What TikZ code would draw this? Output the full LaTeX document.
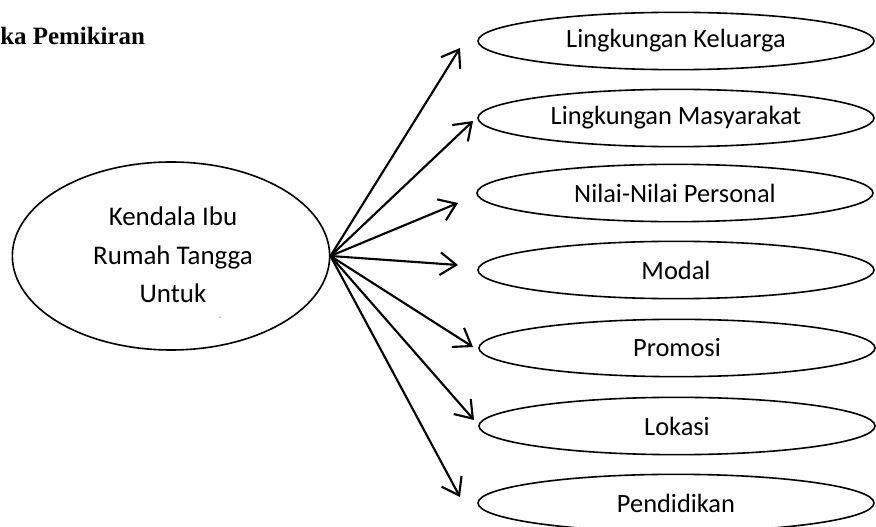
\documentclass[tikz,border=0pt]{standalone}
\usepackage{fontspec}
\setmainfont{Carlito}
\newfontfamily\judulfont{Liberation Serif}
\usetikzlibrary{shapes.geometric,arrows.meta}
\begin{document}
\begin{tikzpicture}[x=0.75pt,y=-0.75pt,
 faktor/.style={draw,ellipse,line width=1.2pt,minimum width=297pt,minimum height=43pt,inner sep=0pt,font=\fontsize{19.8}{23}\selectfont},
 panah/.style={line width=1.6pt,-{Straight Barb[length=12pt,width=17pt,line width=1.6pt]}}]
 \useasboundingbox (0,0) rectangle (876,527);
 \node[anchor=base west,inner sep=0pt,font=\judulfont\bfseries\fontsize{18.7}{22}\selectfont] (judul) at (0,45) {ka Pemikiran};
 % kendala
 \node[draw,ellipse,line width=1.2pt,minimum width=238pt,minimum height=141pt,inner sep=0pt] (kendala) at (171,256) {};
 \node[align=center,font=\fontsize{20.2}{29}\selectfont] (teks) at (173,255) {Kendala Ibu\\Rumah Tangga\\Untuk};
 \node[inner sep=0pt,scale=0.5] (titik) at (220,318) {-};
 % faktor-faktor
 \node[faktor] (keluarga) at (676,41) {Lingkungan Keluarga};
 \node[faktor] (masyarakat) at (676,118) {Lingkungan Masyarakat};
 \node[faktor] (personal) at (675,193) {Nilai-Nilai Personal};
 \node[faktor] (modal) at (676,270) {Modal};
 \node[faktor] (promosi) at (677,348) {Promosi};
 \node[faktor] (lokasi) at (677,426) {Lokasi};
 \node[faktor] (pendidikan) at (676,503) {Pendidikan};
 \coordinate (ujung1) at (460,48);
 \coordinate (ujung2) at (473,121);
 \coordinate (ujung3) at (458,203);
 \coordinate (ujung4) at (458,265);
 \coordinate (ujung5) at (473,347);
 \coordinate (ujung6) at (474,420);
 \coordinate (ujung7) at (460,497);
 \draw[panah] (kendala.east) -- (ujung1);
 \draw[panah] (kendala.east) -- (ujung2);
 \draw[panah] (kendala.east) -- (ujung3);
 \draw[panah] (kendala.east) -- (ujung4);
 \draw[panah] (kendala.east) -- (ujung5);
 \draw[panah] (kendala.east) -- (ujung6);
 \draw[panah] (kendala.east) -- (ujung7);
\end{tikzpicture}
\end{document}
